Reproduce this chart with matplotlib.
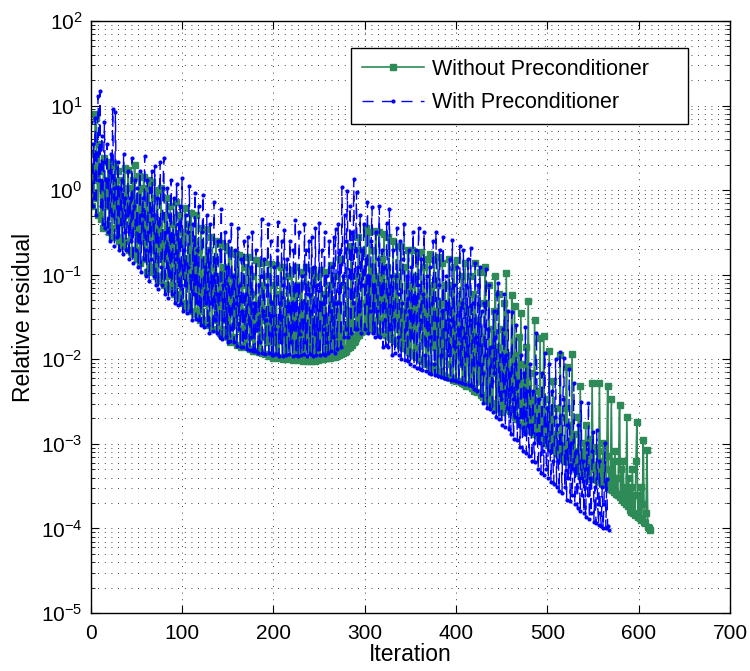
import numpy as np
import matplotlib
matplotlib.use('Agg')
import matplotlib.pyplot as plt
from matplotlib.ticker import FixedLocator, NullLocator, LogFormatterSciNotation

plt.rcParams['font.family'] = ['Liberation Sans', 'DejaVu Sans']
plt.rcParams['mathtext.fontset'] = 'custom'
plt.rcParams['mathtext.rm'] = 'Liberation Sans'
plt.rcParams['mathtext.it'] = 'Liberation Sans:italic'
plt.rcParams['mathtext.bf'] = 'Liberation Sans:bold'

# log10 of the relative residual, one value per iteration
green_exp = [
    0.02, -0.19, 0.27, -0.09, 0.43, 0.9, 0.85, 0.12, -0.29, 0.54,
    0.23, -0.34, 0.02, -0.45, 0.38, -0.09, -0.4, 0.12, -0.19, 0.33,
    -0.5, 0.28, -0.09, -0.55, 0.12, -0.29, 0.31, -0.45, 0.02, -0.55,
    0.23, -0.6, -0.19, 0.12, -0.66, -0.09, -0.4, 0.26, -0.6, 0.02,
    -0.29, 0.24, -0.71, -0.4, 0.02, -0.76, 0.12, -0.5, 0.3, -0.71,
    -0.09, -0.81, -0.4, 0.17, -0.86, 0.02, -0.6, -0.29, 0.15, -0.81,
    -0.5, 0.02, -0.97, -0.29, 0.12, -0.71, -0.91, 0.1, -0.4, -0.97,
    -0.09, -1.02, -0.6, 0.0, -1.07, -0.4, -0.81, 0.02, -1.02, -0.5,
    -1.12, -0.29, -0.81, -0.09, -1.17, -0.6, -1.02, -0.19, -1.12, -0.71,
    -0.4, -1.23, -0.81, -0.14, -1.28, -0.6, -1.02, -0.29, -1.23, -0.91,
    -1.33, -0.5, -1.02, -0.21, -1.38, -0.81, -1.12, -0.4, -1.33, -0.71,
    -0.27, -1.43, -0.91, -0.6, -1.46, -0.29, -1.12, -1.43, -0.71, -1.23,
    -1.54, -0.45, -1.12, -1.56, -0.81, -1.33, -0.46, -1.54, -1.02, -0.71,
    -1.59, -0.91, -0.55, -1.64, -1.23, -0.81, -1.54, -0.6, -1.33, -1.64,
    -1.02, -1.69, -0.62, -1.33, -1.72, -0.91, -1.54, -0.66, -1.64, -1.12,
    -1.74, -0.71, -1.43, -1.79, -0.74, -1.23, -1.74, -1.02, -1.59, -0.76,
    -1.83, -1.33, -0.77, -1.64, -1.85, -1.12, -0.79, -1.74, -1.43, -1.84,
    -0.91, -1.86, -1.54, -0.79, -1.88, -1.23, -1.74, -1.02, -1.9, -1.43,
    -1.9, -0.83, -1.64, -1.33, -1.91, -0.86, -1.74, -1.92, -1.12, -1.54,
    -0.85, -1.94, -1.43, -1.8, -1.02, -1.96, -1.64, -0.87, -1.95, -1.33,
    -1.98, -1.12, -1.8, -0.89, -1.97, -1.54, -1.99, -1.23, -0.91, -1.74,
    -2.0, -1.64, -0.91, -1.96, -1.33, -2.0, -1.02, -1.8, -1.99, -1.43,
    -0.94, -2.01, -1.7, -1.23, -1.99, -0.91, -1.88, -1.54, -2.01, -1.12,
    -1.96, -0.97, -2.02, -1.64, -1.33, -2.01, -0.91, -1.8, -2.02, -1.43,
    -1.12, -2.02, -1.8, -0.94, -1.99, -1.54, -2.02, -1.02, -1.7, -2.01,
    -1.33, -2.0, -0.94, -1.7, -2.0, -1.23, -1.95, -0.97, -1.99, -1.54,
    -1.99, -1.12, -1.98, -0.89, -1.7, -1.97, -1.33, -1.97, -1.02, -1.96,
    -1.96, -1.43, -1.95, -0.81, -1.94, -1.64, -1.93, -1.12, -1.91, -1.9,
    -1.89, -0.71, -1.87, -1.43, -1.85, -0.66, -1.83, -1.23, -1.8, -1.78,
    -1.75, -1.02, -1.73, -0.55, -1.71, -1.33, -1.68, -0.71, -1.66, -1.64,
    -1.62, -0.45, -1.61, -1.12, -1.61, -0.5, -1.62, -0.91, -1.64, -0.71,
    -1.64, -1.23, -0.48, -1.66, -1.02, -1.54, -0.5, -1.67, -1.33, -0.81,
    -1.69, -0.52, -1.43, -1.71, -0.91, -1.72, -0.55, -1.33, -1.74, -1.12,
    -1.76, -0.6, -1.54, -1.78, -1.02, -1.64, -0.66, -1.81, -1.33, -1.83,
    -0.66, -1.85, -1.43, -1.87, -0.91, -1.74, -1.89, -0.71, -1.54, -1.91,
    -1.12, -1.93, -0.71, -1.64, -1.95, -1.02, -1.85, -1.97, -0.76, -1.43,
    -2.0, -1.23, -0.73, -1.74, -2.02, -0.91, -1.54, -2.05, -0.81, -1.85,
    -2.07, -0.76, -1.64, -2.1, -1.12, -1.85, -0.81, -2.12, -1.43, -2.14,
    -0.79, -2.14, -1.74, -1.33, -2.16, -0.86, -1.95, -2.18, -1.12, -1.64,
    -2.21, -1.43, -0.81, -2.05, -2.22, -1.12, -1.74, -2.24, -0.91, -1.95,
    -2.26, -0.83, -1.85, -2.26, -1.33, -2.05, -1.02, -2.28, -1.64, -2.29,
    -0.86, -2.31, -1.95, -1.43, -2.32, -1.02, -2.16, -2.34, -1.23, -1.74,
    -2.37, -0.86, -2.05, -2.39, -1.54, -2.26, -0.97, -2.42, -1.74, -2.16,
    -2.45, -1.33, -0.91, -2.47, -1.95, -2.49, -1.12, -2.26, -2.52, -1.64,
    -2.55, -1.43, -2.16, -1.02, -2.57, -1.85, -2.59, -1.23, -2.37, -2.62,
    -1.64, -2.55, -2.16, -1.33, -2.57, -0.98, -2.37, -2.59, -1.95, -2.61,
    -2.26, -1.24, -2.66, -2.47, -1.37, -2.68, -1.95, -2.7, -2.16, -1.74,
    -2.76, -1.45, -2.57, -2.78, -2.05, -2.8, -2.26, -1.85, -2.82, -1.31,
    -2.68, -2.84, -2.16, -2.86, -2.47, -2.88, -1.53, -2.78, -2.57, -2.9,
    -2.37, -2.93, -1.75, -2.95, -2.68, -2.97, -1.73, -2.88, -2.47, -2.99,
    -2.78, -3.01, -1.9, -3.03, -2.57, -3.05, -2.26, -3.07, -2.88, -3.09,
    -2.57, -3.11, -2.99, -3.13, -1.95, -3.15, -2.68, -3.17, -3.04, -3.2,
    -2.57, -2.09, -3.2, -2.99, -3.22, -2.78, -3.24, -1.94, -3.26, -3.09,
    -2.88, -3.3, -3.14, -3.32, -2.68, -3.34, -2.31, -3.35, -3.09, -3.36,
    -2.99, -3.38, -2.78, -3.39, -3.2, -3.4, -3.25, -2.94, -3.41, -2.28,
    -3.3, -3.04, -3.42, -3.25, -3.43, -3.09, -3.44, -2.28, -3.45, -3.2,
    -3.46, -2.99, -3.47, -3.3, -3.48, -3.14, -2.32, -3.51, -3.3, -3.53,
    -2.47, -3.55, -3.2, -3.57, -3.09, -3.59, -3.4, -3.61, -3.2, -2.54,
    -3.63, -3.3, -3.66, -3.2, -3.69, -3.51, -3.71, -2.68, -3.73, -3.4,
    -3.78, -3.51, -3.8, -3.3, -3.82, -3.61, -3.84, -3.2, -2.74, -3.86,
    -3.61, -3.88, -3.51, -3.9, -3.71, -2.96, -3.92, -3.94, -3.82, -3.07,
    -3.98, -4.0, -4.02,
]

blue_exp = [
    0.81, 0.23, -0.19, 0.54, -0.09, 0.85, -0.29, 0.43, 1.11, 0.12,
    1.17, -0.19, 0.64, -0.4, 0.33, 0.8, -0.45, 0.12, 0.54, -0.5,
    0.23, -0.6, 0.43, -0.29, 0.96, 0.02, -0.66, 0.92, -0.09, -0.55,
    0.33, -0.71, 0.02, -0.4, 0.12, -0.76, 0.43, -0.5, -0.09, -0.71,
    -0.29, 0.23, -0.81, -0.09, -0.6, 0.38, -0.86, -0.19, 0.12, -0.71,
    -0.4, 0.02, -0.91, -0.6, 0.23, -0.97, -0.29, -0.09, -0.81, 0.4,
    -0.71, -1.02, 0.12, -0.5, -1.07, 0.02, -0.81, 0.23, -0.29, -1.02,
    0.29, -1.12, -0.6, -0.09, -1.17, -0.4, 0.33, -0.91, -1.12, 0.02,
    0.38, -1.23, -0.5, -0.91, 0.02, -1.28, -0.29, -1.02, 0.12, -1.23,
    -0.6, -0.09, -1.33, -0.81, 0.07, -1.36, -0.4, -1.12, -0.19, -1.33,
    0.14, -1.43, -0.71, -1.12, -0.29, -1.45, -0.91, -0.5, 0.05, -1.43,
    -1.02, -1.54, -0.4, -1.23, -0.03, -1.52, -0.71, -1.33, -0.19, -1.54,
    -1.12, -1.59, -0.5, -0.06, -1.62, -0.91, -1.33, -0.29, -1.6, -0.71,
    -1.69, -0.4, -1.33, -1.02, -1.67, -0.14, -1.54, -0.81, -1.69, -0.6,
    -1.23, -1.74, -0.71, -0.22, -1.76, -1.12, -1.54, -0.5, -1.74, -0.91,
    -1.8, -0.6, -1.43, -1.78, -0.4, -1.64, -1.02, -1.8, -0.71, -1.33,
    -1.84, -0.45, -1.64, -1.12, -1.86, -0.81, -1.43, -1.85, -0.6, -1.74,
    -1.23, -1.88, -0.55, -1.54, -1.89, -0.91, -1.74, -0.5, -1.9, -1.33,
    -1.9, -0.71, -1.64, -1.93, -1.12, -1.8, -1.02, -0.34, -1.92, -1.43,
    -0.81, -1.94, -1.54, -1.12, -0.4, -1.93, -1.7, -0.6, -1.95, -1.33,
    -1.95, -0.91, -1.64, -1.94, -0.71, -0.38, -1.96, -1.33, -1.8, -0.6,
    -1.96, -1.12, -0.47, -1.7, -1.95, -0.81, -1.43, -1.94, -0.6, -1.8,
    -1.33, -1.96, -0.71, -1.64, -0.35, -1.95, -1.12, -1.96, -0.5, -1.7,
    -1.95, -1.02, -1.54, -1.94, -0.4, -1.8, -0.71, -1.96, -1.23, -0.6,
    -1.94, -1.43, -0.55, -1.96, -0.91, -1.7, -0.45, -1.95, -1.12, -1.88,
    -0.39, -1.95, -1.33, -0.71, -1.94, -1.64, -0.5, -1.95, -1.02, -1.8,
    -1.93, -0.6, -1.43, -1.9, -0.91, -1.74, -0.55, -1.92, -0.46, -1.33,
    -1.88, -0.4, -1.33, -0.71, -1.85, 0.04, -1.02, -1.74, -0.29, -1.64,
    -0.6, -0.01, -1.74, -1.02, -0.19, -1.69, -0.5, -1.33, 0.13, -1.64,
    -0.71, -0.02, -1.64, -0.91, -1.43, -0.29, -1.69, -0.71, -1.12, -0.4,
    -1.64, -0.81, -1.33, -0.14, -1.69, -1.02, -1.43, -0.6, -0.2, -1.69,
    -1.12, -1.74, -0.5, -1.43, -1.72, -0.81, -0.19, -1.74, -1.23, -0.71,
    -1.85, -0.91, -1.54, -1.83, -0.39, -1.23, -1.85, -0.22, -1.64, -1.02,
    -1.95, -0.71, -1.54, -1.93, -1.02, -0.45, -1.74, -1.95, -1.23, -0.6,
    -2.0, -1.33, -0.81, -0.4, -2.01, -1.64, -1.02, -2.02, -0.71, -1.43,
    -2.06, -0.91, -1.74, -0.5, -2.08, -1.33, -0.71, -2.1, -1.12, -0.45,
    -2.12, -1.54, -0.81, -2.13, -1.23, -0.5, -1.95, -2.14, -1.02, -1.64,
    -2.16, -0.91, -1.74, -2.17, -1.33, -0.6, -2.05, -2.18, -0.49, -1.54,
    -2.2, -1.12, -0.71, -1.95, -2.21, -1.43, -0.55, -2.22, -1.64, -1.02,
    -2.23, -1.33, -1.95, -0.81, -2.24, -1.54, -0.59, -2.25, -1.12, -1.85,
    -2.26, -0.91, -1.64, -2.27, -0.66, -2.05, -1.33, -2.28, -0.71, -1.74,
    -2.29, -1.12, -1.95, -0.81, -2.3, -1.54, -0.68, -2.31, -1.33, -2.05,
    -2.35, -0.86, -1.74, -2.38, -1.12, -2.05, -0.91, -2.42, -1.43, -2.16,
    -2.52, -1.33, -1.95, -0.93, -2.57, -1.64, -1.12, -2.59, -1.85, -2.26,
    -2.62, -1.43, -2.16, -1.74, -2.68, -1.23, -1.1, -2.7, -1.95, -2.47,
    -2.78, -1.64, -2.37, -1.23, -2.8, -1.95, -2.57, -1.43, -2.82, -2.16,
    -2.88, -1.44, -2.47, -2.94, -2.05, -2.68, -1.6, -2.96, -2.26, -2.78,
    -3.04, -1.95, -2.68, -3.09, -2.16, -2.88, -1.62, -3.11, -2.37, -2.78,
    -3.14, -2.05, -2.78, -3.2, -2.37, -2.99, -3.22, -2.16, -1.69, -2.88,
    -3.3, -2.47, -2.99, -3.35, -2.16, -3.09, -3.37, -1.92, -2.78, -3.3,
    -2.57, -3.4, -2.05, -3.09, -3.45, -2.37, -3.2, -3.47, -2.68, -2.0,
    -3.51, -2.78, -3.2, -3.56, -1.91, -2.99, -3.58, -2.47, -1.98, -3.51,
    -3.09, -3.66, -2.78, -3.4, -2.11, -3.68, -2.99, -3.61, -3.3, -2.28,
    -3.71, -3.09, -3.51, -3.76, -2.78, -3.4, -3.79, -2.5, -3.61, -3.2,
    -3.82, -3.3, -3.87, -2.99, -3.61, -2.52, -3.89, -3.4, -3.82, -3.09,
    -2.86, -3.92, -3.51, -3.94, -2.84, -3.71, -3.96, -3.2, -3.82, -3.97,
    -3.51, -4.0, -3.71, -2.99, -4.0, -3.42, -3.97, -4.02,
]

labels = ['Without Preconditioner', 'With Preconditioner']
x_ticks = [0, 100, 200, 300, 400, 500, 600, 700]
y_decades = [-5, -4, -3, -2, -1, 0, 1, 2]

green_y = 10.0 ** np.array(green_exp)
blue_y = 10.0 ** np.array(blue_exp)
green_x = np.arange(len(green_y))
blue_x = np.arange(len(blue_y))

fig = plt.figure(figsize=(7.5, 6.71), dpi=100)
ax = fig.add_axes([0.121, 0.0864, 0.8524, 0.8823])

ax.semilogy(green_x, green_y, '-', color='#2E8B57', lw=1.2, marker='s',
            ms=5.0, mec='#2E8B57', mfc='#2E8B57', label=labels[0])
ax.semilogy(blue_x, blue_y, color='#0000FF', lw=1.0, linestyle=(0, (8, 6)),
            marker='o', ms=3.0, mew=0, mfc='#0000FF', label=labels[1])

ax.set_xlim(0, 700)
ax.set_ylim(1e-5, 1e2)
ax.xaxis.set_major_locator(FixedLocator(x_ticks))
ax.xaxis.set_minor_locator(NullLocator())
major_y = [10.0 ** d for d in y_decades]
minor_y = [m * 10.0 ** d for d in y_decades[:-1] for m in range(2, 10)]
ax.yaxis.set_major_locator(FixedLocator(major_y))
ax.yaxis.set_minor_locator(FixedLocator(minor_y))
ax.yaxis.set_major_formatter(LogFormatterSciNotation())

dots = (0, (1, 7))
ax.grid(True, which='major', axis='both', linestyle=dots, color='k', lw=0.6)
ax.grid(True, which='minor', axis='y', linestyle=dots, color='k', lw=0.6)

ax.tick_params(which='both', direction='in', top=True, right=True, labelsize=15)
ax.tick_params(which='major', length=6, width=0.8)
ax.tick_params(which='minor', length=3, width=0.6)
ax.tick_params(axis='x', which='major', pad=8)
ax.tick_params(axis='y', which='major', pad=6)
for s in ax.spines.values():
    s.set_linewidth(1.0)

ax.set_xlabel('Iteration', fontsize=16.5, labelpad=0)
ax.set_ylabel('Relative residual', fontsize=16.5, labelpad=4)

leg = ax.legend(loc='upper left', bbox_to_anchor=(0.407, 0.831, 0.527, 0.123),
                mode='expand', borderaxespad=0, fontsize=15.5, fancybox=False,
                framealpha=1, edgecolor='k', handlelength=2.9,
                handletextpad=0.35, borderpad=0.5, labelspacing=0.56)
leg.get_frame().set_linewidth(1.0)

fig.savefig('out.png', dpi=100)
